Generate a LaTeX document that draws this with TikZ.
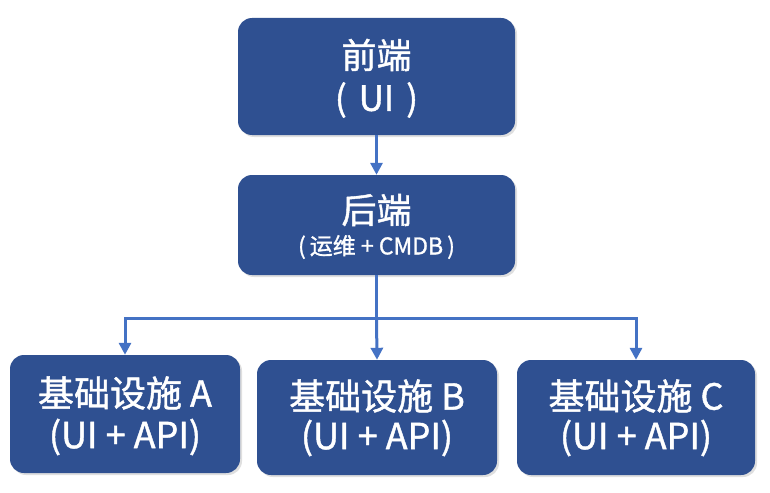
\documentclass[tikz,border=0pt]{standalone}
\usepackage{fontspec}
\setmainfont{Noto Sans CJK SC}[BoldFont=Noto Sans CJK SC,BoldFeatures={FakeBold=1.2}]
\usetikzlibrary{arrows.meta,shadows}
\definecolor{boxblue}{HTML}{2F5091}
\definecolor{lineblue}{HTML}{4472C4}
\begin{document}
\begin{tikzpicture}[x=1pt,y=-1pt,
  box/.style={draw=none,fill=boxblue,rounded corners=14pt,text=white,align=center,
    drop shadow={shadow xshift=2pt,shadow yshift=-2pt,opacity=0.25}},
  conn/.style={draw=lineblue,line width=3pt,-{Triangle[length=12pt,width=12pt]}},
  big/.style={text=white,font=\bfseries\fontsize{35}{40}\selectfont},
  mid/.style={text=white,font=\bfseries\fontsize{36}{40}\selectfont}]
\useasboundingbox (0,0) rectangle (770,492);
\path[box] (238,18) rectangle (515,135);
\path[box] (238,175) rectangle (515,275);
\path[box] (10,355) rectangle (240,473);
\path[box] (257,360) rectangle (497,475);
\path[box] (517,360) rectangle (755,475);
\node[inner sep=0] (front) at (376.5,76.5) [minimum width=277pt,minimum height=117pt] {};
\node[inner sep=0] (back) at (376.5,225) [minimum width=277pt,minimum height=100pt] {};
\node[inner sep=0] (ia) at (125,414) [minimum width=230pt,minimum height=118pt] {};
\node[inner sep=0] (ib) at (377,417.5) [minimum width=240pt,minimum height=115pt] {};
\node[inner sep=0] (ic) at (636,417.5) [minimum width=238pt,minimum height=115pt] {};
\node[big] (t1) at (376.5,55) {前端};
\node[big] (t2) at (376.5,100) {(\hspace{12pt}UI\hspace{12pt})};
\node[big] (t3) at (376.5,210) {后端};
\node[text=white,font=\bfseries\fontsize{23}{26}\selectfont] (t4) at (376.5,247) {(\hspace{4pt}运维 + CMDB\hspace{4pt})};
\node[mid] (a1) at (125,393) {基础设施 A};
\node[mid] (a2) at (125,437) {(UI + API)};
\node[mid] (b1) at (377,396) {基础设施 B};
\node[mid] (b2) at (377,438) {(UI + API)};
\node[mid] (c1) at (636,396) {基础设施 C};
\node[mid] (c2) at (636,438) {(UI + API)};
\coordinate (j) at (376.5,318);
\draw[conn] (front.south) -- (back.north);
\draw[draw=lineblue,line width=3pt] (back.south) -- (j);
\draw[conn] (j) -| (ia.north);
\draw[conn] (j) -- (ib.north);
\draw[conn] (j) -| (ic.north);
\end{tikzpicture}
\end{document}
